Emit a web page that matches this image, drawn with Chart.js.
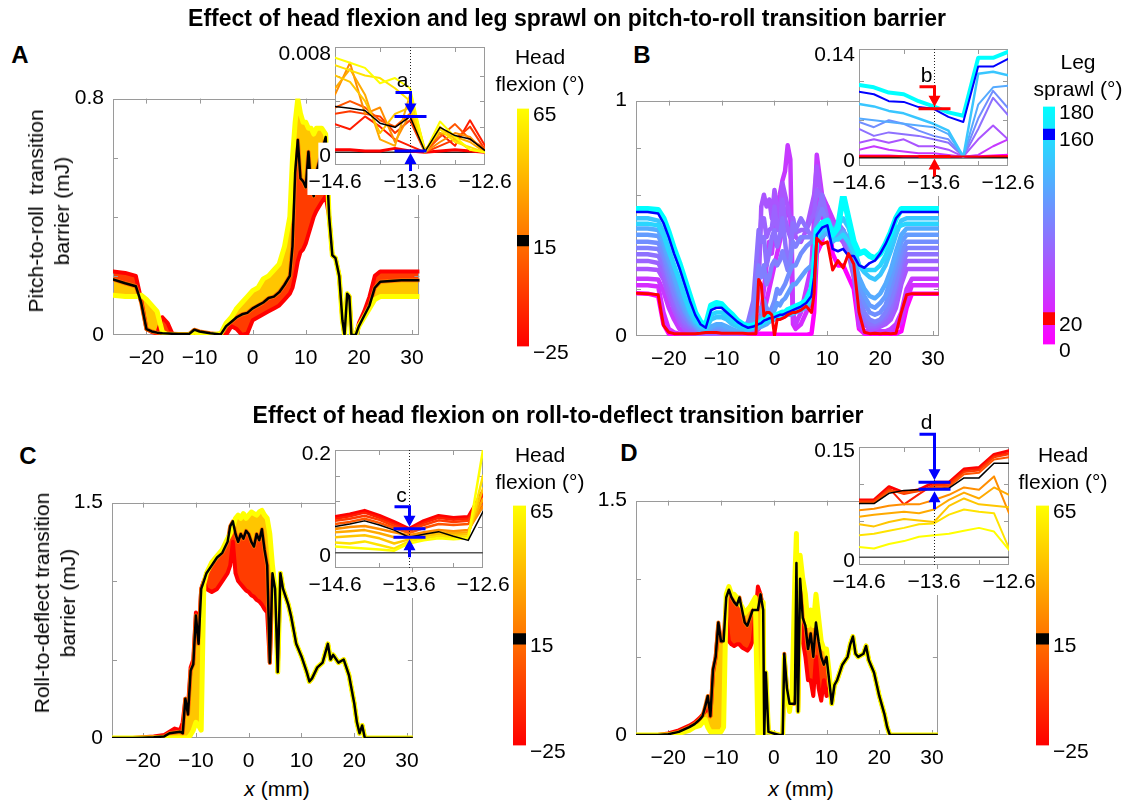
<!DOCTYPE html>
<html>
<head>
<meta charset="utf-8">
<script src="https://cdn.jsdelivr.net/npm/chart.js"></script>
<style>
  html, body { margin: 0; background: #fff; overflow: hidden; }
  #fig { position: relative; width: 1135px; height: 803px; font-family: "Liberation Sans", Arial, sans-serif; }
  canvas { position: absolute; }
  .t { position: absolute; transform: translate(-50%, -50%); font-size: 21px; line-height: 1; white-space: nowrap; color: #000; }
  .b { font-weight: bold; }
  .r { transform: translate(-50%, -50%) rotate(-90deg); text-align: center; line-height: 26px; }
  .c { text-align: center; line-height: 27px; }
</style>
</head>
<body>
<div id="fig">
  <canvas id="mainA"></canvas>
  <canvas id="mainB"></canvas>
  <canvas id="mainC"></canvas>
  <canvas id="mainD"></canvas>
  <canvas id="inA"></canvas>
  <canvas id="inB"></canvas>
  <canvas id="inC"></canvas>
  <canvas id="inD"></canvas>
  <canvas id="cbA"></canvas>
  <canvas id="cbB"></canvas>
  <canvas id="cbC"></canvas>
  <canvas id="cbD"></canvas>

  <div class="t b" style="left:567px;top:18px;font-size:23px">Effect of head flexion and leg sprawl on pitch-to-roll transition barrier</div>
  <div class="t b" style="left:558px;top:415px;font-size:23px">Effect of head flexion on roll-to-deflect transition barrier</div>
  <div class="t b" style="left:20px;top:55px;font-size:24px">A</div>
  <div class="t b" style="left:642px;top:55px;font-size:24px">B</div>
  <div class="t b" style="left:28px;top:456px;font-size:24px">C</div>
  <div class="t b" style="left:629px;top:453px;font-size:24px">D</div>
  <div class="t r" style="left:49px;top:211px">Pitch-to-roll&nbsp; transition<br>barrier (mJ)</div>
  <div class="t r" style="left:55px;top:603px">Roll-to-deflect transition<br>barrier (mJ)</div>
  <div class="t" style="left:277px;top:788px"><i>x</i> (mm)</div>
  <div class="t" style="left:801px;top:788px"><i>x</i> (mm)</div>
  <div class="t c" style="left:540px;top:70px">Head<br>flexion (°)</div>
  <div class="t c" style="left:1078px;top:75px">Leg<br>sprawl (°)</div>
  <div class="t c" style="left:540px;top:468px">Head<br>flexion (°)</div>
  <div class="t c" style="left:1063px;top:468px">Head<br>flexion (°)</div>
</div>

<script>
// ---------- panel A: pitch-to-roll barrier vs x, head flexion ----------
const xA = [-26.3, -24, -22, -21, -20, -19, -18, -17, -16, -15,
  -14, -12, -11, -10, -8, -6, -5, -4, -3, -2,
  -1, 0, 1, 2, 3, 4, 5, 6, 7, 7.5,
  8, 8.5, 9, 9.5, 10, 10.5, 11, 11.5, 12, 13,
  13.75, 14.4, 15, 15.6, 16.3, 16.9, 17.3, 17.8, 18.2, 18.6,
  19.4, 20, 21, 22, 23, 24, 26, 28, 31.4];
const aHead15 = [.188, .175, .165, .11, .02, .012, .008, .006, .005, .004,
  .003, .003, .018, .012, .006, .002, .03, .045, .06, .07,
  .075, .09, .1, .11, .125, .13, .145, .17, .2, .3,
  .55, .66, .53, .52, .5, .62, .5, .47, .55, .62,
  .67, .4, .27, .26, .2, .05, 0, .14, .13, 0,
  0, .03, .065, .1, .16, .18, .183, .185, .185];
const aHead65 = [.135, .13, .13, .135, .12, .1, .08, .01, 0, 0,
  0, 0, .01, .005, 0, .005, .04, .06, .09, .11,
  .13, .15, .16, .19, .2, .22, .24, .3, .4, .6,
  .72, .8, .75, .72, .72, .7, .7, .68, .7, .7,
  .68, .4, .27, .26, .2, .05, 0, .14, .13, 0,
  0, .03, .06, .09, .12, .13, .13, .13, .13];
const aHeadM25 = [.215, .21, .2, .12, .02, .01, .005, .06, .04, 0,
  0, 0, 0, 0, 0, 0, 0, .03, .02, 0,
  .005, .05, .06, .07, .08, .09, .1, .12, .14, .16,
  .2, .25, .28, .29, .31, .34, .37, .4, .42, .45,
  .47, .4, .27, .26, .2, .05, 0, .14, .13, 0,
  0, .04, .08, .13, .2, .215, .215, .215, .215];

// ---------- panel B: pitch-to-roll barrier vs x, leg sprawl ----------
const xB = [-26.1, -24, -22, -21, -20, -19, -18, -17, -16, -15,
  -14, -13, -12, -11, -10, -9, -8, -7, -6, -5,
  -4, -3.5, -3, -2.5, -2, -1.5, -1, -0.5, 0, 0.5,
  1, 1.5, 2, 2.5, 3, 3.5, 4, 5, 6, 7,
  7.5, 8, 9, 10, 11, 12, 13, 14, 15, 16,
  17, 18, 19, 20, 21, 22, 23, 24, 25, 26,
  28, 31.1];
const bSprawl180 = [.54, .54, .535, .5, .44, .37, .31, .24, .17, .1,
  .06, .045, .13, .14, .135, .11, .09, .065, .05, .04,
  .045, .05, .055, .06, .07, .075, .08, .08, .085, .09,
  .095, .1, .1, .11, .115, .12, .125, .135, .15, .2,
  .28, .45, .48, .49, .43, .46, .6, .5, .4, .35,
  .36, .34, .33, .35, .39, .44, .5, .54, .54, .54,
  .54, .54];
const bSprawl160 = [.527, .527, .52, .48, .42, .35, .29, .22, .15, .09,
  .05, .035, .11, .12, .12, .1, .08, .06, .045, .035,
  .04, .045, .05, .055, .065, .07, .075, .075, .08, .085,
  .09, .09, .095, .1, .105, .11, .115, .125, .14, .17,
  .25, .43, .46, .47, .37, .36, .37, .34, .34, .3,
  .29, .31, .32, .35, .39, .44, .5, .527, .527, .527,
  .527, .527];
const bSprawl150 = [.477, .477, .47, .43, .36, .3, .24, .17, .11, .07,
  .045, .032, .09, .1, .1, .085, .065, .05, .04, .032,
  .038, .042, .048, .052, .06, .065, .07, .072, .078, .082,
  .088, .09, .092, .098, .1, .105, .112, .122, .135, .165,
  .245, .425, .45, .465, .41, .41, .43, .4, .36, .3,
  .28, .28, .28, .3, .34, .4, .46, .47, .477, .477,
  .477, .477];
const bSprawl140 = [.5, .5, .49, .44, .37, .3, .23, .16, .1, .06,
  .04, .03, .07, .08, .08, .07, .05, .04, .03, .03,
  .035, .04, .045, .05, .055, .06, .065, .07, .075, .08,
  .085, .09, .09, .095, .1, .1, .11, .12, .13, .16,
  .24, .42, .44, .46, .45, .47, .5, .46, .38, .3,
  .27, .25, .24, .26, .3, .36, .43, .49, .5, .5,
  .5, .5];
const bSprawl120 = [.457, .457, .45, .4, .33, .26, .19, .13, .08, .05,
  .03, .02, .04, .05, .05, .04, .03, .02, .02, .025,
  .03, .03, .035, .04, .045, .05, .06, .065, .07, .075,
  .08, .08, .085, .09, .09, .095, .1, .11, .12, .15,
  .22, .4, .42, .44, .4, .42, .44, .42, .33, .25,
  .2, .17, .16, .18, .22, .28, .36, .43, .457, .457,
  .457, .457];
const bSprawl110 = [.43, .43, .425, .38, .31, .24, .17, .11, .07, .045,
  .025, .02, .035, .04, .04, .03, .025, .02, .025, .04,
  .06, .07, .08, .07, .1, .09, .08, .09, .11, .14,
  .13, .15, .16, .18, .2, .22, .22, .25, .28, .3,
  .34, .42, .45, .46, .41, .43, .44, .41, .31, .22,
  .17, .13, .12, .14, .17, .24, .32, .4, .43, .43,
  .43, .43];
const bSprawl100 = [.4, .4, .395, .35, .28, .21, .15, .1, .06, .04,
  .02, .02, .03, .03, .03, .02, .02, .02, .03, .05,
  .08, .1, .12, .1, .15, .12, .1, .12, .15, .2,
  .18, .2, .22, .25, .28, .3, .3, .35, .38, .4,
  .42, .45, .48, .47, .42, .44, .45, .4, .3, .2,
  .14, .1, .09, .1, .13, .2, .28, .36, .4, .4,
  .4, .4];
const bSprawl90 = [.374, .374, .37, .33, .25, .18, .12, .08, .05, .035,
  .02, .02, .025, .025, .025, .025, .02, .02, .03, .055,
  .11, .2, .3, .25, .3, .22, .25, .3, .32, .3,
  .32, .36, .32, .28, .32, .4, .38, .42, .42, .42,
  .43, .48, .54, .48, .44, .46, .45, .39, .29, .17,
  .1, .07, .06, .07, .1, .15, .23, .33, .374, .374,
  .374, .374];
const bSprawl80 = [.347, .347, .34, .3, .23, .16, .1, .06, .04, .03,
  .02, .02, .02, .02, .02, .03, .02, .02, .03, .06,
  .15, .3, .45, .4, .42, .3, .35, .42, .45, .38,
  .42, .5, .4, .3, .35, .48, .45, .5, .46, .42,
  .44, .5, .6, .5, .45, .48, .45, .38, .28, .15,
  .08, .05, .05, .06, .08, .12, .2, .3, .347, .347,
  .347, .347];
const bSprawl70 = [.319, .319, .31, .27, .2, .13, .08, .045, .03, .02,
  .015, .015, .015, .015, .015, .02, .015, .015, .025, .045,
  .1, .2, .35, .5, .5, .42, .45, .46, .55, .45,
  .45, .58, .5, .45, .42, .5, .44, .45, .45, .5,
  .52, .62, .58, .5, .46, .46, .42, .36, .26, .12,
  .06, .04, .04, .05, .06, .09, .15, .26, .319, .319,
  .319, .319];
const bSprawl60 = [.285, .285, .28, .24, .17, .11, .06, .03, .02, .01,
  .01, .01, .01, .01, .01, .01, .01, .01, .02, .03,
  .05, .08, .2, .55, .6, .55, .58, .5, .62, .55,
  .5, .65, .6, .55, .5, .5, .42, .4, .45, .55,
  .6, .72, .55, .5, .48, .45, .4, .35, .25, .1,
  .05, .03, .03, .04, .05, .07, .12, .22, .285, .285,
  .285, .285];
const bSprawl40 = [.243, .243, .24, .19, .12, .07, .03, .02, .01, .01,
  .01, .01, .01, .01, .01, .01, .01, .01, .01, .01,
  .02, .03, .05, .1, .2, .3, .4, .35, .45, .55,
  .6, .66, .7, .81, .75, .1, .05, .1, .2, .3,
  .5, .77, .6, .55, .5, .45, .42, .38, .3, .05,
  .02, .02, .02, .02, .02, .03, .05, .1, .2, .243,
  .243, .243];
const bSprawl30 = [.216, .216, .21, .1, .03, .015, .01, .01, .01, .01,
  .01, .01, .01, .01, .01, .01, .01, .01, .01, .01,
  .015, .02, .03, .05, .1, .15, .2, .25, .3, .35,
  .4, .45, .5, .55, .5, .05, .03, .05, .1, .15,
  .3, .6, .5, .5, .45, .42, .4, .35, .3, .04,
  .015, .015, .015, .015, .015, .02, .03, .06, .15, .216,
  .216, .216];
const bSprawl20 = [.182, .18, .175, .045, .016, .01, .01, .01, .01, .01,
  .012, .015, .015, .015, .012, .012, .012, .012, .012, .01,
  .01, .01, .24, .22, .085, .1, .1, .09, 0, .07,
  .07, .075, .08, .09, .095, .1, .1, .11, .127, .1,
  .18, .415, .39, .4, .28, .32, .29, .35, .305, .1,
  .016, .01, .012, .01, .012, .01, .012, .1, .175, .18,
  .18, .18];
const bSprawl0 = [.182, .18, .17, .05, .01, .005, .005, .005, .005, .005,
  .005, .005, .005, .005, .005, .005, .005, .005, .005, .005,
  .01, .01, .01, .01, .01, .01, .01, .01, .005, .005,
  .005, .005, .005, .005, .005, .005, .005, .005, .005, .01,
  .1, .35, .4, .55, .35, .3, .3, .25, .2, .03,
  .01, .01, .01, .01, .01, .01, .01, .02, .12, .18,
  .18, .18];

// ---------- panel C: roll-to-deflect barrier vs x ----------
const xC = [-25.9, -22, -20, -18, -16, -15, -14, -13, -12.5, -12,
  -11.5, -11, -10.5, -10, -9.5, -9, -8.5, -8, -7, -6,
  -5, -4, -3.5, -3, -2.5, -2, -1.5, -1, -0.5, 0,
  0.5, 1, 1.5, 2, 2.5, 3, 3.5, 4, 4.5, 5,
  5.5, 6, 6.5, 7, 7.5, 8, 9, 10, 11, 11.5,
  12, 13, 14, 15, 15.5, 16, 17, 18, 19, 20,
  20.5, 21, 21.5, 22, 25, 31.1];
const cHead15 = [0, 0, .002, .005, .01, .03, .035, .04, .03, .25,
  .15, .43, .47, .78, .6, .95, 1.0, 1.05, 1.1, 1.15,
  1.18, 1.25, 1.35, 1.38, 1.3, 1.25, 1.3, 1.27, 1.32, 1.3,
  1.25, 1.22, 1.3, 1.26, 1.33, 1.2, 1.1, .48, 1.05, .95,
  .42, 1.05, .95, .9, .85, .78, .6, .52, .42, .36,
  .38, .45, .48, .6, .5, .53, .48, .5, .4, .22,
  .1, .03, .08, 0, 0, 0];
const cHead65 = [0, 0, 0, 0, 0, 0, 0, 0, 0, 0,
  0, .02, .05, .1, .08, .05, .98, 1.05, 1.12, 1.16,
  1.2, 1.27, 1.3, 1.35, 1.4, 1.42, 1.4, 1.43, 1.4, 1.42,
  1.44, 1.43, 1.42, 1.44, 1.45, 1.42, 1.4, 1.3, 1.1, .95,
  .42, 1.05, .95, .9, .85, .78, .6, .52, .42, .36,
  .38, .45, .48, .6, .5, .53, .48, .5, .4, .22,
  .1, .03, .08, 0, 0, 0];
const cHeadM25 = [0, 0, .005, .01, .02, .04, .06, .05, .1, .25,
  .2, .45, .5, .8, .65, .95, 1.0, .95, .93, .95,
  1.0, 1.05, 1.1, 1.25, 1.05, 1.0, .98, .96, .94, .93,
  .91, .9, .88, .87, .85, .82, .8, .48, 1.0, .95,
  .42, 1.05, .95, .9, .85, .78, .6, .52, .42, .36,
  .38, .45, .48, .6, .5, .53, .48, .5, .4, .22,
  .1, .03, .08, 0, 0, 0];

// ---------- panel D: roll-to-deflect barrier vs x ----------
const xD = [-26.1, -22, -20, -18, -16, -15, -14, -13.5, -13, -12.5,
  -12, -11.5, -11, -10.5, -10, -9.5, -9, -8.5, -8, -7.5,
  -7, -6.5, -6, -5.5, -5, -4.5, -4, -3.5, -3, -2.5,
  -2, -1.8, -1.5, -1, 0, 1, 1.7, 2, 2.5, 3,
  3.5, 4, 4.3, 4.6, 5, 5.5, 6, 6.5, 7, 7.5,
  8, 8.5, 9, 9.5, 10, 10.5, 11, 11.5, 12, 13,
  14, 14.5, 15, 15.5, 16, 17, 17.5, 18, 19, 20,
  21, 21.5, 22, 25, 31.1];
const dHead15 = [0, 0, .005, .02, .05, .07, .1, .12, .18, .25,
  .12, .42, .5, .72, .6, .6, .88, .93, .88, .85,
  .83, .88, .8, .72, .7, .75, .8, .8, .8, .9,
  .8, 0, .4, .02, .01, 0, 0, .52, .3, .2,
  .2, .2, 1.1, .15, 1.0, .75, .7, .55, .65, .5,
  .72, .6, .5, .45, .5, .35, .2, .32, .35, .45,
  .5, .58, .63, .52, .5, .52, .57, .48, .4, .25,
  .13, .05, 0, 0, 0];
const dHead65 = [0, 0, 0, .01, .03, .05, .06, .08, .1, .05,
  .02, .02, .02, .02, .02, .05, .9, .95, .9, .9,
  .88, .85, .82, .78, .8, .82, .85, .88, 0, 0,
  .85, 0, .4, .02, .01, 0, 0, .5, .25, .15,
  .3, 1.0, 1.29, .15, 1.15, 1.0, .9, .7, .8, .7,
  .9, .75, .6, .55, .55, .4, .2, .32, .35, .45,
  .5, .58, .63, .52, .5, .52, .57, .48, .4, .25,
  .13, .05, 0, 0, 0];
const dHeadM25 = [0, 0, .01, .03, .06, .08, .11, .13, .15, .2,
  .12, .4, .5, .7, .6, .6, .75, .6, .58, .57,
  .58, .58, .56, .55, .54, .56, .6, .75, .95, .9,
  .8, 0, .3, .02, .01, 0, 0, .4, .25, .2,
  .2, .3, 1.0, .15, .95, .6, .5, .35, .35, .25,
  .5, .3, .22, .35, .25, .3, .2, .32, .35, .45,
  .5, .58, .63, .52, .5, .52, .57, .48, .4, .25,
  .13, .05, 0, 0, 0];

// ---------- close-ups around x = -13.6 mm ----------
const xIn = [-14.6, -14.4, -14.2, -14.0, -13.8, -13.6, -13.4, -13.2, -13.0, -12.8, -12.6];

const aIn65 = [.0074, .0070, .0066, .0054, .0058, .0050, 0, .0024, .0012, .0002, 0];
const aIn55 = [.0068, .0064, .0060, .0058, .0050, .0040, 0, .0018, .0008, .0004, 0];
const aIn45 = [.0060, .0055, .0040, .0015, .0030, .0035, 0, .0020, .0010, .0002, 0];
const aIn35 = [.0050, .0065, .0045, .0010, .0005, .0045, .0002, .0015, .0012, .0008, 0];
const aIn25 = [.0045, .0070, .0030, .0035, .0008, .0030, 0, .0008, .0015, .0012, 0];
const aIn15 = [.00357, .00344, .00326, .00227, .00195, .00279, .00005, .00195, .0013, .00104, .00013];
const aIn5 = [.0035, .0040, .0035, .0025, .0020, .0030, 0, .0012, .0022, .0010, .0003];
const aInM5 = [.0030, .0032, .0030, .0028, .0015, .0025, 0, .0005, .0010, .0020, .0002];
const aInM15 = [.0022, .0018, .0028, .0020, .0010, .0005, 0, .0015, .0005, .0025, .0005];
const aInM25 = [.0002, .0002, .0001, .0001, .0003, .0001, 0, .0001, .0002, .0001, 0];

const bIn180 = [.0955, .0923, .0855, .0832, .0741, .0673, .0595, .055, .131, .131, .139];
const bIn160 = [.0864, .0832, .0741, .0732, .0664, .0641, .0536, .0468, .1195, .1195, .1295];
const bIn140 = [.0705, .0673, .0614, .0582, .0514, .0445, .0355, .0014, .110, .1127, .1082];
const bIn120 = [.0514, .0491, .0468, .0445, .0423, .040, .0309, .0014, .0695, .0923, .0945];
const bIn100 = [.0468, .040, .0491, .0445, .0355, .0286, .0241, .0014, .0514, .0877, .065];
const bIn80 = [.0377, .0286, .0332, .0309, .0286, .0241, .0195, .0014, .0377, .0786, .0559];
const bIn60 = [.0195, .0241, .0195, .0241, .015, .015, .0105, .0014, .0241, .0423, .0241];
const bIn40 = [.0105, .015, .0105, .0082, .0059, .0059, .0036, .0014, .0036, .015, .0241];
const bIn20 = [.002, .002, .002, .002, .0018, .0014, .0014, .0014, .0014, .002, .002];
const bIn0 = [.003, .003, .003, .002, .002, .002, .0018, .0014, .0018, .003, .004];

const cIn65 = [.012, .010, .008, .006, .004, .018, .024, .028, .026, .028, .200];
const cIn55 = [.020, .018, .022, .015, .008, .022, .028, .032, .030, .032, .150];
const cIn45 = [.030, .032, .034, .028, .018, .026, .032, .036, .034, .036, .125];
const cIn35 = [.040, .042, .044, .038, .030, .030, .035, .040, .038, .040, .105];
const cIn25 = [.046, .050, .052, .046, .040, .034, .040, .044, .042, .044, .090];
const cIn15 = [.051, .056, .062, .054, .044, .030, .036, .041, .032, .024, .080];
const cIn5 = [.056, .060, .066, .058, .048, .038, .048, .056, .054, .056, .092];
const cInM5 = [.062, .066, .072, .064, .052, .042, .054, .063, .060, .062, .100];
const cInM15 = [.066, .071, .078, .068, .056, .044, .058, .068, .064, .066, .110];
const cInM25 = [.070, .075, .082, .072, .060, .0465, .062, .072, .068, .070, .120];

const dIn65 = [.014, .012, .018, .022, .028, .030, .032, .036, .040, .035, .010];
const dIn55 = [.030, .032, .036, .040, .045, .046, .058, .065, .062, .060, .012];
const dIn45 = [.045, .042, .048, .052, .050, .048, .070, .080, .072, .070, .068];
const dIn35 = [.055, .058, .060, .062, .060, .065, .078, .088, .080, .095, .085];
const dIn25 = [.064, .066, .070, .072, .072, .078, .085, .095, .092, .110, .060];
const dIn15 = [.073, .073, .087, .091, .092, .0927, .094, .108, .108, .128, .128];
const dIn5 = [.074, .074, .090, .088, .090, .095, .096, .113, .115, .133, .136];
const dInM5 = [.076, .076, .092, .086, .090, .097, .098, .116, .118, .136, .140];
const dInM15 = [.077, .077, .094, .072, .086, .099, .100, .118, .120, .138, .142];
const dInM25 = [.078, .078, .096, .088, .092, .102, .102, .120, .122, .140, .145];

// colour bar ranges and highlighted values
const headRange = [-25, 65], headTicks = [65, 15, -25], headMark = [13, 17];
const sprawlRange = [0, 180], sprawlTicks = [180, 160, 20, 0];
const sprawlMarkBlue = [155, 163], sprawlMarkRed = [15, 24];

// ---------- helpers ----------
const FONT = 'Liberation Sans, Arial, sans-serif';
const autumn = v => `rgb(255,${Math.round(255 * (v + 25) / 90)},0)`;
const cool = v => `rgb(${Math.round(255 * (1 - v / 180))},${Math.round(255 * v / 180)},255)`;
const pts = (xs, ys) => xs.map((x, i) => ({ x: x, y: ys[i] }));
const minus = v => (v < 0 ? '\u2212' + Math.abs(v) : String(v));

// box, inward tick marks, optional white backing and zero line
const frame = {
  id: 'frame',
  beforeDraw(chart, args, o) {
    if (!o.bg) return;
    const a = chart.chartArea, ctx = chart.ctx;
    ctx.save();
    ctx.fillStyle = o.bg;
    ctx.fillRect(a.left, a.top, a.width, a.height);
    ctx.restore();
  },
  beforeDatasetsDraw(chart, args, o) {
    const { ctx, chartArea: a, scales: { x, y } } = chart;
    ctx.save();
    ctx.strokeStyle = '#9a9a9a';
    ctx.lineWidth = 1;
    ctx.strokeRect(Math.round(a.left) + 0.5, Math.round(a.top) + 0.5, Math.round(a.width) - 1, Math.round(a.height) - 1);
    ctx.beginPath();
    (o.xt || []).forEach(v => {
      const p = Math.round(x.getPixelForValue(v)) + 0.5;
      ctx.moveTo(p, a.bottom); ctx.lineTo(p, a.bottom - 5);
      ctx.moveTo(p, a.top); ctx.lineTo(p, a.top + 5);
    });
    (o.yt || []).forEach(v => {
      const p = Math.round(y.getPixelForValue(v)) + 0.5;
      ctx.moveTo(a.left, p); ctx.lineTo(a.left + 5, p);
      ctx.moveTo(a.right, p); ctx.lineTo(a.right - 5, p);
    });
    ctx.stroke();
    if (o.zero) {
      const p = y.getPixelForValue(0);
      ctx.strokeStyle = o.zero;
      ctx.lineWidth = 1.5;
      ctx.beginPath(); ctx.moveTo(a.left, p); ctx.lineTo(a.right, p); ctx.stroke();
    }
    ctx.restore();
  }
};

// dotted guide at x = -13.6 and the two-bar gap marker with arrows
const marker = {
  id: 'marker',
  afterDatasetsDraw(chart, args, o) {
    if (o.at === undefined) return;
    const { ctx, chartArea: a, scales: { x, y } } = chart;
    const cx = Math.round(x.getPixelForValue(o.at)) + 0.5;
    const hy = y.getPixelForValue(o.hi), ly = y.getPixelForValue(o.lo);
    ctx.save();
    ctx.strokeStyle = '#222';
    ctx.lineWidth = 1;
    ctx.setLineDash([1, 2]);
    ctx.beginPath(); ctx.moveTo(cx, a.top); ctx.lineTo(cx, a.bottom); ctx.stroke();
    ctx.setLineDash([]);
    ctx.strokeStyle = ctx.fillStyle = o.color;
    ctx.lineWidth = 3;
    ctx.beginPath();
    ctx.moveTo(cx - 16, hy); ctx.lineTo(cx + 16, hy);
    ctx.moveTo(cx - 16, ly); ctx.lineTo(cx + 16, ly);
    const top = hy - o.stem;
    ctx.moveTo(cx - 15, top); ctx.lineTo(cx, top); ctx.lineTo(cx, hy - 12);
    ctx.moveTo(cx, ly + 12); ctx.lineTo(cx, ly + 20);
    ctx.stroke();
    ctx.beginPath();
    ctx.moveTo(cx - 6, hy - 13); ctx.lineTo(cx + 6, hy - 13); ctx.lineTo(cx, hy - 2); ctx.closePath();
    ctx.moveTo(cx - 6, ly + 13); ctx.lineTo(cx + 6, ly + 13); ctx.lineTo(cx, ly + 2); ctx.closePath();
    ctx.fill();
    ctx.fillStyle = '#000';
    ctx.font = '21px ' + FONT;
    ctx.textAlign = 'center';
    ctx.textBaseline = 'middle';
    ctx.fillText(o.label, cx - 8, top - 11);
    ctx.restore();
  }
};

function place(id, area, pad) {
  const c = document.getElementById(id);
  c.width = area.r - area.l + pad.l + pad.r;
  c.height = area.b - area.t + pad.t + pad.b;
  c.style.left = (area.l - pad.l) + 'px';
  c.style.top = (area.t - pad.t) + 'px';
  return c;
}

function lineChart(id, area, pad, cfg) {
  const canvas = place(id, area, pad);
  const tickFont = { family: FONT, size: 21 };
  return new Chart(canvas, {
    type: 'line',
    data: { datasets: cfg.datasets },
    options: {
      responsive: false,
      animation: false,
      devicePixelRatio: 1,
      layout: { padding: { top: pad.t, right: pad.r, left: 0, bottom: 0 } },
      elements: {
        point: { radius: 0 },
        line: { tension: 0, borderJoinStyle: 'round', borderCapStyle: 'round' }
      },
      plugins: {
        legend: { display: false },
        tooltip: { enabled: false },
        filler: { drawTime: 'beforeDatasetsDraw' },
        frame: cfg.frame,
        marker: cfg.marker || {}
      },
      scales: {
        x: {
          type: 'linear', min: cfg.x[0], max: cfg.x[1],
          afterFit: s => { s.height = pad.b; },
          afterBuildTicks: s => { s.ticks = cfg.xLabels.map(v => ({ value: v })); },
          grid: { display: false, drawTicks: false },
          border: { display: false },
          ticks: {
            color: '#000', font: tickFont, padding: cfg.xPad, maxRotation: 0, autoSkip: false,
            callback: minus, showLabelBackdrop: !!cfg.backdrop, backdropColor: '#fff', backdropPadding: 1
          }
        },
        y: {
          type: 'linear', min: cfg.y[0], max: cfg.y[1],
          afterFit: s => { s.width = pad.l; },
          afterBuildTicks: s => { s.ticks = cfg.yLabels.map(v => ({ value: v })); },
          grid: { display: false, drawTicks: false },
          border: { display: false },
          ticks: {
            color: '#000', font: tickFont, padding: cfg.yPad, labelOffset: cfg.yOffset || 0, autoSkip: false,
            callback: minus, showLabelBackdrop: !!cfg.backdrop, backdropColor: '#fff', backdropPadding: 1
          }
        }
      }
    },
    plugins: [frame, marker]
  });
}

// a head-flexion band: 65 deg above, 15 deg (black) in the middle, -25 deg below
function headBand(xs, hi, mid, lo) {
  return [
    { data: pts(xs, mid), borderColor: '#000', borderWidth: 2.5, fill: false },
    { data: pts(xs, hi), borderColor: autumn(65), borderWidth: 5, fill: '+1', backgroundColor: autumn(45) },
    { data: pts(xs, mid), borderColor: autumn(15), borderWidth: 4, fill: '+1', backgroundColor: autumn(-4) },
    { data: pts(xs, lo), borderColor: autumn(-25), borderWidth: 4, fill: false }
  ];
}

function headLines(series, width) {
  const out = [{ data: pts(xIn, series[15]), borderColor: '#000', borderWidth: 1.5, fill: false }];
  [65, 55, 45, 35, 25, 5, -5, -15, -25].forEach(v => {
    out.push({ data: pts(xIn, series[v]), borderColor: autumn(v), borderWidth: v === -25 ? width + 1 : width, fill: false });
  });
  return out;
}

function colorBar(id, area, cfg) {
  const pad = { l: 0, r: 62, t: 14, b: 14 };
  const canvas = place(id, area, pad);
  // the gradient runs over the full value range, i.e. the plot area height
  const grad = c => {
    const a = c.chart.chartArea;
    if (!a || !isFinite(a.top) || !isFinite(a.bottom)) return cfg.stops[0];
    const g = c.chart.ctx.createLinearGradient(0, a.bottom, 0, a.top);
    g.addColorStop(0, cfg.stops[0]);
    g.addColorStop(1, cfg.stops[1]);
    return g;
  };
  const bar = { grouped: false, barPercentage: 1, categoryPercentage: 1, borderWidth: 0 };
  const sets = cfg.marks.map(m => Object.assign({ data: [m.span], backgroundColor: m.color }, bar));
  sets.push(Object.assign({ data: [cfg.range.slice()], backgroundColor: grad }, bar));
  return new Chart(canvas, {
    type: 'bar',
    data: { labels: ['scale'], datasets: sets },
    options: {
      responsive: false,
      animation: false,
      devicePixelRatio: 1,
      layout: { padding: { top: pad.t, bottom: pad.b, left: 0, right: 0 } },
      plugins: { legend: { display: false }, tooltip: { enabled: false } },
      scales: {
        x: { display: false },
        y: {
          position: 'right', min: cfg.range[0], max: cfg.range[1],
          afterFit: s => { s.width = pad.r; },
          afterBuildTicks: s => { s.ticks = cfg.ticks.map(v => ({ value: v })); },
          grid: { display: false, drawTicks: false },
          border: { display: false },
          ticks: { color: '#000', font: { family: FONT, size: 21 }, padding: 4, labelOffset: 7, callback: minus }
        }
      }
    }
  });
}

// ---------- main panels ----------
const mainPad = { l: 50, r: 14, t: 14, b: 36 };

lineChart('mainA', { l: 113, t: 91, r: 421, b: 335 }, mainPad, {
  x: [-26.3, 31.4], y: [0, 0.8], xLabels: [-20, -10, 0, 10, 20, 30], yLabels: [0, 0.8], xPad: 11, yPad: 9,
  frame: { xt: [-20, -10, 0, 10, 20, 30], yt: [0.2, 0.4, 0.6] },
  datasets: headBand(xA, aHead65, aHead15, aHeadM25)
});

// leg sprawl lines, drawn with red and blue highlights on top
const sprawlSeries = [
  [180, bSprawl180], [150, bSprawl150], [140, bSprawl140], [120, bSprawl120], [110, bSprawl110],
  [100, bSprawl100], [90, bSprawl90], [80, bSprawl80], [70, bSprawl70], [60, bSprawl60],
  [40, bSprawl40], [30, bSprawl30], [0, bSprawl0]
];
lineChart('mainB', { l: 636, t: 93, r: 942, b: 336 }, mainPad, {
  x: [-26.2, 31.1], y: [0, 1], xLabels: [-20, -10, 0, 10, 20, 30], yLabels: [0, 1], xPad: 11, yPad: 9,
  frame: { xt: [-20, -10, 0, 10, 20, 30], yt: [0.2, 0.4, 0.6, 0.8] },
  datasets: [
    { data: pts(xB, bSprawl20), borderColor: '#ff0000', borderWidth: 3 },
    { data: pts(xB, bSprawl160), borderColor: '#0000ff', borderWidth: 2.5 }
  ].concat(sprawlSeries.map(([v, s]) => ({ data: pts(xB, s), borderColor: cool(v), borderWidth: v === 180 ? 6 : 4.5 })))
    .map(d => Object.assign(d, { fill: false }))
});

lineChart('mainC', { l: 112, t: 495, r: 416, b: 738 }, mainPad, {
  x: [-25.9, 31.1], y: [0, 1.5], xLabels: [-20, -10, 0, 10, 20, 30], yLabels: [0, 1.5], xPad: 11, yPad: 9,
  frame: { xt: [-20, -10, 0, 10, 20, 30], yt: [0.5, 1.0] },
  datasets: headBand(xC, cHead65, cHead15, cHeadM25)
});

lineChart('mainD', { l: 636, t: 493, r: 941, b: 735 }, mainPad, {
  x: [-26.1, 31.1], y: [0, 1.5], xLabels: [-20, -10, 0, 10, 20, 30], yLabels: [0, 1.5], xPad: 11, yPad: 9,
  frame: { xt: [-20, -10, 0, 10, 20, 30], yt: [0.5, 1.0] },
  datasets: headBand(xD, dHead65, dHead15, dHeadM25)
});

// ---------- close-up insets ----------
const inPad = { l: 64, r: 32, t: 44, b: 30 };
const inX = [-14.6, -13.6, -12.6];

lineChart('inA', { l: 335, t: 47, r: 485, b: 165 }, inPad, {
  x: [-14.6, -12.6], y: [-0.001, 0.00823], xLabels: inX, yLabels: [0, 0.008], xPad: 5, yPad: 4, yOffset: 4, backdrop: true,
  frame: { bg: '#fff', xt: [-14.0, -13.0], yt: [0.002, 0.004, 0.006], zero: '#222' },
  marker: { at: -13.6, hi: aIn15[5], lo: aInM25[5], color: '#0000ff', stem: 24, label: 'a' },
  datasets: headLines({ 65: aIn65, 55: aIn55, 45: aIn45, 35: aIn35, 25: aIn25, 15: aIn15, 5: aIn5, '-5': aInM5, '-15': aInM15, '-25': aInM25 }, 2)
});

lineChart('inB', { l: 859, t: 49, r: 1008, b: 166 }, inPad, {
  x: [-14.6, -12.6], y: [-0.0109, 0.1426], xLabels: inX, yLabels: [0, 0.14], xPad: 5, yPad: 4, yOffset: 4, backdrop: true,
  frame: { bg: '#fff', xt: [-14.0, -13.0], yt: [0.05, 0.1], zero: '#111' },
  marker: { at: -13.6, hi: bIn160[5], lo: bIn20[5], color: '#ff0000', stem: 22, label: 'b' },
  datasets: [
    { data: pts(xIn, bIn20), borderColor: '#ff0000', borderWidth: 2 },
    { data: pts(xIn, bIn160), borderColor: '#0000ff', borderWidth: 2 },
    { data: pts(xIn, bIn180), borderColor: cool(180), borderWidth: 4 },
    { data: pts(xIn, bIn140), borderColor: cool(140), borderWidth: 2.5 },
    { data: pts(xIn, bIn120), borderColor: cool(120), borderWidth: 2 },
    { data: pts(xIn, bIn100), borderColor: cool(100), borderWidth: 2 },
    { data: pts(xIn, bIn80), borderColor: cool(80), borderWidth: 2 },
    { data: pts(xIn, bIn60), borderColor: cool(60), borderWidth: 2 },
    { data: pts(xIn, bIn40), borderColor: cool(40), borderWidth: 2 },
    { data: pts(xIn, bIn0), borderColor: cool(0), borderWidth: 2 }
  ].map(d => Object.assign(d, { fill: false }))
});

lineChart('inC', { l: 335, t: 450, r: 483, b: 568 }, inPad, {
  x: [-14.6, -12.6], y: [-0.0298, 0.2], xLabels: inX, yLabels: [0, 0.2], xPad: 5, yPad: 4, yOffset: 4, backdrop: true,
  frame: { bg: '#fff', xt: [-14.0, -13.0], yt: [0.05, 0.1, 0.15], zero: '#555' },
  marker: { at: -13.6, hi: cInM25[5], lo: cIn15[5], color: '#0000ff', stem: 22, label: 'c' },
  datasets: headLines({ 65: cIn65, 55: cIn55, 45: cIn45, 35: cIn35, 25: cIn25, 15: cIn15, 5: cIn5, '-5': cInM5, '-15': cInM15, '-25': cInM25 }, 2.5)
});

lineChart('inD', { l: 859, t: 447, r: 1009, b: 565 }, inPad, {
  x: [-14.6, -12.6], y: [-0.0105, 0.15], xLabels: inX, yLabels: [0, 0.15], xPad: 5, yPad: 4, yOffset: 4, backdrop: true,
  frame: { bg: '#fff', xt: [-14.0, -13.0], yt: [0.05, 0.1], zero: '#555' },
  marker: { at: -13.6, hi: dInM25[5], lo: dIn15[5], color: '#0000ff', stem: 48, label: 'd' },
  datasets: headLines({ 65: dIn65, 55: dIn55, 45: dIn45, 35: dIn35, 25: dIn25, 15: dIn15, 5: dIn5, '-5': dInM5, '-15': dInM15, '-25': dInM25 }, 2)
});

// ---------- colour bars ----------
const headBar = {
  range: headRange, ticks: headTicks, stops: [autumn(-25), autumn(65)],
  marks: [{ span: headMark, color: '#000' }]
};
colorBar('cbA', { l: 517, t: 106, r: 529, b: 349 }, headBar);
colorBar('cbC', { l: 513, t: 503, r: 526, b: 748 }, headBar);
colorBar('cbD', { l: 1036, t: 503, r: 1049, b: 748 }, headBar);
colorBar('cbB', { l: 1043, t: 104, r: 1055, b: 347 }, {
  range: sprawlRange, ticks: sprawlTicks, stops: [cool(0), cool(180)],
  marks: [{ span: sprawlMarkBlue, color: '#0000ff' }, { span: sprawlMarkRed, color: '#ff0000' }]
});
</script>
</body>
</html>
